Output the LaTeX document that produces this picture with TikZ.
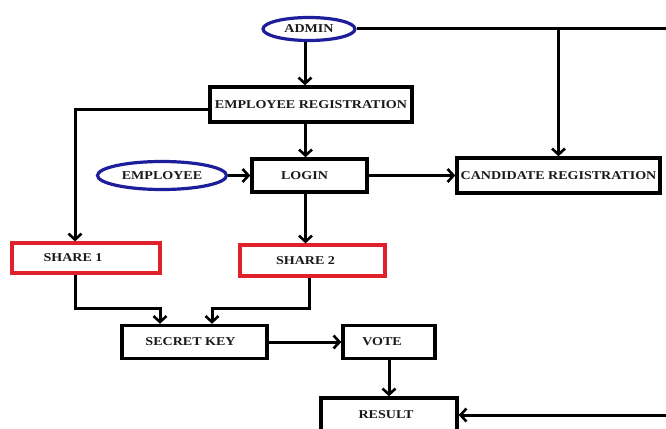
\documentclass[tikz,border=0pt]{standalone}
\usepackage{fontspec}
\setmainfont{Liberation Serif}[FakeStretch=1.17]
\usetikzlibrary{arrows.meta,shapes.geometric}
\definecolor{ellblue}{HTML}{1E1E9A}
\definecolor{boxred}{HTML}{E0202A}
\definecolor{txt}{HTML}{1A1A1A}
\begin{document}
\begin{tikzpicture}[x=1pt,y=-1pt,
  font=\fontsize{12}{14}\selectfont\bfseries,
  box/.style={draw=black,line width=3.4pt,rectangle,inner sep=1pt,text=txt},
  redbox/.style={draw=boxred,line width=3.2pt,rectangle,inner sep=1pt,text=txt},
  ell/.style={draw=ellblue,line width=3.2pt,ellipse,inner sep=0pt,text=txt},
  ln/.style={line width=3pt,draw=black},
  arr/.style={ln,-{Straight Barb[length=6pt,width=13pt,line width=2.6pt]}}]
\useasboundingbox[fill=white] (0,0) rectangle (666,428);

\node[ell,minimum width=92,minimum height=23] (admin) at (309,29) {ADMIN};
\node[box,minimum width=202,minimum height=35] (er) at (311,104.5) {EMPLOYEE REGISTRATION};
\node[ell,minimum width=129,minimum height=28] (emp) at (162,175.5) {EMPLOYEE};
\node[box,minimum width=115,minimum height=33,label={[text=txt,xshift=-5pt]center:LOGIN}] (login) at (309.5,175.5) {};
\node[box,minimum width=203,minimum height=35] (cand) at (558.5,175.5) {CANDIDATE REGISTRATION};
\node[redbox,minimum width=148,minimum height=30,label={[text=txt,xshift=-13pt]center:SHARE 1}] (s1) at (86,258) {};
\node[redbox,minimum width=145,minimum height=31,label={[text=txt,xshift=-7pt]center:SHARE 2}] (s2) at (312.5,260.5) {};
\node[box,minimum width=145,minimum height=33,label={[text=txt,xshift=-4pt]center:SECRET KEY}] (sk) at (194.5,342) {};
\node[box,minimum width=92,minimum height=33,label={[text=txt,xshift=-7pt]center:VOTE}] (vote) at (389,342) {};
\node[box,minimum width=136,minimum height=34,label={[text=txt,xshift=-3pt]center:RESULT}] (result) at (389,415) {};

\coordinate (rc) at (667,415);
\coordinate (j1) at (160,308);
\coordinate (j2) at (212,308);

% admin
\draw[arr] ([xshift=-4pt]admin.south) -- ([xshift=-4pt]admin.south |- er.north);
\draw[ln] (admin.east) -| (rc);
\draw[arr] (rc) -- (result.east);
\draw[arr] (admin.east -| cand.north) -- (cand.north);
% employee registration
\draw[arr] ([yshift=-5pt]er.west) -| ([xshift=-11pt]s1.north);
\draw[arr] ([xshift=-4pt]login.north |- er.south) -- ([xshift=-4pt]login.north);
% login
\draw[arr] (emp.east) -- (login.west);
\draw[arr] (login.east) -- (cand.west);
\draw[arr] ([xshift=-4pt]login.south) -- ([xshift=-4pt]login.south |- s2.north);
% shares
\draw[arr] ([xshift=-11pt]s1.south) |- (j1) -- (j1 |- sk.north);
\draw[arr] ([xshift=-3pt]s2.south) |- (j2) -- (j2 |- sk.north);
% secret key, vote
\draw[arr] (sk.east) -- (vote.west);
\draw[arr] (vote.south) -- (result.north);
\end{tikzpicture}
\end{document}
